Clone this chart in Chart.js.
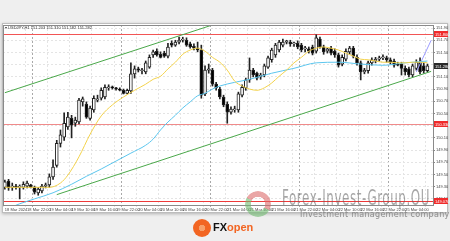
<!DOCTYPE html>
<html>
<head>
<meta charset="utf-8">
<script src="https://cdn.jsdelivr.net/npm/chart.js@4.4.1/dist/chart.umd.min.js"></script>
<style>
    html, body { margin:0; padding:0; width:450px; height:241px; overflow:hidden; background:#efefef; font-family:"Liberation Sans", Arial, sans-serif; }
    #panel { position:absolute; left:2px; top:23px; width:444px; height:188px; background:#fff; border:1px solid #bdbdbd; box-shadow:0 1px 3px rgba(0,0,0,0.25); }
    #chart { position:absolute; left:0; top:0; z-index:1; }
    #title { position:absolute; left:5px; top:25px; z-index:2; font-size:4px; color:#333; white-space:nowrap; }
    #ring { position:absolute; left:245px; top:191px; width:26px; height:26px; border-radius:50%; z-index:3; opacity:0.6;
            background:conic-gradient(from 300deg, #dd6c6c 0 50%, #72bb72 50% 100%);
            -webkit-mask:radial-gradient(circle, transparent 7px, #000 7.5px); mask:radial-gradient(circle, transparent 7px, #000 7.5px); }
    #wm { position:absolute; left:282px; top:185px; z-index:3; font:22px "DejaVu Sans Condensed", sans-serif; color:rgba(95,95,95,0.55);
          white-space:nowrap; transform:scaleX(0.6); transform-origin:left top; letter-spacing:1px; }
    #wm2 { position:absolute; left:300px; top:210px; z-index:3; font:8px "DejaVu Sans", sans-serif; color:#8c8c8c; white-space:nowrap; letter-spacing:0.3px; }
    #fxo { position:absolute; left:193px; top:219px; z-index:3; height:18px; white-space:nowrap; }
    #fxo .icon { position:absolute; left:0; top:0; width:18px; height:18px; border-radius:50%; background:radial-gradient(circle, #f7a06a 0 3px, #f26522 3.5px); }
    #fxo .txt { position:absolute; left:20px; top:2px; font:bold 11px "Liberation Sans", Arial, sans-serif; color:#111; }
    #fxo .txt span { color:#f26522; }
</style>
</head>
<body>
<div id="panel"></div>
<canvas id="chart" width="450" height="241"></canvas>
<div id="title">&#9662; USDJPY,H1 151.203 151.310 151.182 151.282</div>
<div id="ring"></div>
<div id="wm">Forex-Invest-Group.OU</div>
<div id="wm2">Investment management company</div>
<div id="fxo"><div class="icon"></div><div class="txt">FX<span>open</span></div></div>
<script>
'use strict';

// ── axis labels ──
const timeLabels = ['18 Mar 2024', '18 Mar 22:00', '19 Mar 04:00', '19 Mar 10:00', '19 Mar 16:00',
    '19 Mar 22:00', '20 Mar 04:00', '20 Mar 10:00', '20 Mar 16:00', '20 Mar 22:00', '21 Mar 04:00',
    '21 Mar 10:00', '21 Mar 16:00', '21 Mar 22:00', '22 Mar 04:00', '22 Mar 10:00', '22 Mar 16:00',
    '22 Mar 22:00', '25 Mar 04:00'];
const priceTicks = [149.1, 149.3, 149.5, 149.7, 149.9, 150.1, 150.3, 150.5, 150.7, 150.9,
    151.1, 151.3, 151.5, 151.7, 151.9];
const daySeparators = [8, 32, 56, 80, 104];
const SLOTS = 116;   // 115 candles + one empty slot of chart shift

// ── USDJPY H1 candles ──
const opens = [149.29,149.39,149.29,149.31,149.29,149.29,149.31,149.33,149.29,149.20,
    149.23,149.31,149.33,149.46,149.65,150.01,150.11,150.28,150.42,150.34,
    150.36,150.69,150.65,150.42,150.56,150.72,150.75,150.77,150.92,150.93,
    150.92,150.90,150.88,150.83,150.87,151.15,151.23,151.20,151.18,151.26,
    151.46,151.52,151.47,151.49,151.44,151.65,151.62,151.67,151.70,151.70,
    151.64,151.60,151.57,151.54,150.82,151.21,151.21,150.98,150.90,150.77,
    150.65,150.52,150.56,150.56,150.80,150.92,151.05,151.21,151.16,151.10,
    151.13,151.26,151.38,151.46,151.54,151.62,151.67,151.67,151.64,151.65,
    151.62,151.56,151.56,151.59,151.52,151.72,151.59,151.52,151.57,151.52,
    151.46,151.31,151.39,151.51,151.57,151.42,151.33,151.18,151.20,151.33,
    151.36,151.39,151.41,151.41,151.38,151.36,151.31,151.31,151.24,151.23,
    151.13,151.24,151.34,151.28,151.20];
const highs = [149.41,149.42,149.36,149.34,149.33,149.38,149.39,149.34,149.31,149.29,
    149.34,149.36,149.51,149.74,150.06,150.23,150.51,150.52,150.47,150.44,
    150.75,150.77,150.69,150.62,150.79,150.80,150.92,150.97,150.97,150.95,
    150.93,150.92,150.90,150.90,151.33,151.28,151.26,151.24,151.36,151.46,
    151.54,151.56,151.51,151.52,151.65,151.69,151.70,151.75,151.75,151.74,
    151.67,151.64,151.67,151.62,151.28,151.31,151.24,151.01,150.93,150.80,
    150.69,150.61,150.62,150.85,150.97,151.08,151.41,151.24,151.18,151.16,
    151.31,151.44,151.57,151.65,151.70,151.72,151.70,151.70,151.67,151.69,
    151.65,151.60,151.59,151.62,151.79,151.75,151.62,151.57,151.60,151.56,
    151.49,151.46,151.56,151.60,151.60,151.46,151.36,151.24,151.36,151.41,
    151.42,151.44,151.46,151.44,151.41,151.39,151.34,151.34,151.28,151.26,
    151.31,151.38,151.41,151.33,151.31];
const lows = [149.26,149.24,149.24,149.26,149.10,149.26,149.28,149.28,149.18,149.16,
    149.20,149.28,149.29,149.42,149.62,149.95,150.06,150.24,150.10,150.29,
    150.33,150.62,150.42,150.39,150.52,150.69,150.72,150.74,150.88,150.90,
    150.88,150.87,150.82,150.82,150.83,151.08,151.18,151.15,151.15,151.24,
    151.42,151.44,151.41,151.42,151.41,151.59,151.60,151.64,151.67,151.60,
    151.57,151.54,151.51,150.75,150.79,151.16,150.95,150.88,150.74,150.61,
    150.34,150.49,150.52,150.52,150.77,150.88,151.01,151.10,151.05,151.06,
    151.10,151.24,151.34,151.42,151.51,151.59,151.64,151.60,151.60,151.56,
    151.51,151.51,151.49,151.46,151.49,151.57,151.47,151.49,151.46,151.42,
    151.26,151.28,151.36,151.47,151.41,151.29,151.05,151.15,151.16,151.29,
    151.33,151.36,151.38,151.34,151.31,151.26,151.28,151.13,151.13,151.10,
    151.10,151.21,151.15,151.16,151.18];
const closes = [149.38,149.28,149.31,149.29,149.31,149.34,149.36,149.29,149.21,149.26,
    149.31,149.33,149.46,149.62,150.01,150.15,150.34,150.44,150.31,150.39,
    150.72,150.74,150.44,150.59,150.75,150.74,150.88,150.93,150.93,150.92,
    150.90,150.88,150.83,150.88,151.15,151.23,151.21,151.21,151.33,151.42,
    151.51,151.46,151.42,151.44,151.59,151.62,151.67,151.70,151.72,151.62,
    151.59,151.57,151.54,150.80,151.21,151.23,150.98,150.92,150.77,150.64,
    150.52,150.57,150.57,150.82,150.93,151.05,151.21,151.13,151.08,151.13,
    151.28,151.41,151.54,151.62,151.67,151.67,151.69,151.64,151.65,151.59,
    151.54,151.57,151.52,151.49,151.74,151.59,151.51,151.56,151.49,151.46,
    151.29,151.42,151.52,151.57,151.44,151.33,151.18,151.21,151.33,151.38,
    151.39,151.41,151.42,151.38,151.34,151.29,151.29,151.24,151.18,151.13,
    151.28,151.34,151.18,151.20,151.28];

// ── indicators at (candle index, price) ──
const fastMaIdx = [0,6,12,15,17,20,23,26,29,32,35,38,40,42,44,46,48,50,52,54,
    56,58,60,62,64,66,68,70,72,74,76,78,80,82,84,86,88,90,92,94,
    96,98,100,102,104,106,108,110,112,114];
const fastMaVal = [149.29,149.29,149.29,149.36,149.49,149.79,150.16,150.46,150.64,150.77,
    150.88,150.98,151.06,151.11,151.23,151.34,151.47,151.54,151.57,151.52,
    151.42,151.34,151.21,151.03,150.95,150.90,150.88,150.92,151.00,151.11,
    151.21,151.33,151.42,151.52,151.57,151.59,151.57,151.54,151.49,151.44,
    151.39,151.38,151.36,151.34,151.34,151.33,151.33,151.34,151.34,151.33];
const slowMaIdx = [0,4,8,13,18,22,26,30,34,38,40,42,44,46,48,50,52,54,56,58,
    62,66,72,78,84,90,96,102,108,114];
const slowMaVal = [148.92,149.02,149.10,149.20,149.34,149.47,149.59,149.72,149.85,149.98,
    150.08,150.23,150.36,150.47,150.59,150.69,150.79,150.83,150.90,150.95,
    151.01,151.06,151.16,151.24,151.33,151.34,151.31,151.29,151.33,151.36];
const upperChannelIdx = [0, 60];
const upperChannelVal = [150.84, 152.03];
const lowerChannelIdx = [14, 115];
const lowerChannelVal = [149.17, 151.19];
const projectionIdx = [111, 115];
const projectionVal = [151.18, 151.70];
const levels = [151.80, 150.33, 149.07];

function sparse(idx, val) {
    const a = new Array(SLOTS).fill(null);
    idx.forEach((k, j) => { a[k] = val[j]; });
    return a;
}

const labels = Array.from({ length: SLOTS }, (_, i) =>
    (i % 6 === 0 && timeLabels[i / 6]) ? timeLabels[i / 6] : '');
const bodyColors = opens.map((o, i) => closes[i] >= o ? '#ffffff' : '#000000');
const levelColors = ['#f25555', '#f08a8a', '#ee3a3a'];

// horizontal levels, chart frame and the price boxes on the axis
const mt4Overlay = {
    id: 'mt4Overlay',
    beforeDatasetsDraw(chart) {
        const { ctx, chartArea: a, scales: { y } } = chart;
        ctx.save();
        levels.forEach((v, i) => {
            const py = Math.round(y.getPixelForValue(v)) + 0.5;
            ctx.strokeStyle = levelColors[i];
            ctx.lineWidth = 1;
            ctx.beginPath(); ctx.moveTo(a.left, py); ctx.lineTo(a.right, py); ctx.stroke();
        });
        ctx.restore();
    },
    afterDraw(chart) {
        const { ctx, chartArea: a, scales: { y } } = chart;
        ctx.save();
        ctx.strokeStyle = '#8a8a8a';
        ctx.lineWidth = 1;
        ctx.strokeRect(Math.round(a.left) + 0.5, Math.round(a.top) + 0.5,
            Math.round(a.right - a.left), Math.round(a.bottom - a.top));
        const boxes = levels.map((v, i) => ({ v, bg: levelColors[i] === '#f08a8a' ? '#ef2b2b' : '#ef2b2b' }));
        boxes.push({ v: closes[closes.length - 1], bg: '#2a2a2a' });
        ctx.font = '4px "Liberation Sans", Arial, sans-serif';
        ctx.textBaseline = 'middle';
        boxes.forEach(b => {
            const py = Math.round(y.getPixelForValue(b.v));
            ctx.fillStyle = b.bg;
            ctx.fillRect(Math.round(a.right) + 1, py - 3, 14, 6);
            ctx.fillStyle = '#fff';
            ctx.fillText(b.v.toFixed(3), Math.round(a.right) + 2, py + 0.5);
        });
        ctx.restore();
    }
};

const lineBase = { type: 'line', borderWidth: 1, pointRadius: 0, spanGaps: true, order: 1 };

new Chart(document.getElementById('chart'), {
    type: 'bar',
    data: {
        labels,
        datasets: [
            { ...lineBase, data: sparse(fastMaIdx, fastMaVal), borderColor: '#f3d24b', cubicInterpolationMode: 'monotone' },
            { ...lineBase, data: sparse(slowMaIdx, slowMaVal), borderColor: '#5cc6ee', cubicInterpolationMode: 'monotone' },
            { ...lineBase, data: sparse(upperChannelIdx, upperChannelVal), borderColor: '#4aa84a' },
            { ...lineBase, data: sparse(lowerChannelIdx, lowerChannelVal), borderColor: '#4aa84a' },
            { ...lineBase, data: sparse(projectionIdx, projectionVal), borderColor: '#9b9bff' },
            { type: 'bar', data: opens.map((o, i) => [Math.min(o, closes[i]), Math.max(o, closes[i])]),
              backgroundColor: bodyColors, borderColor: '#222', borderWidth: 1, borderSkipped: false,
              barThickness: 3, minBarLength: 1, grouped: false, order: 2 },
            { type: 'bar', data: lows.map((l, i) => [l, highs[i]]),
              backgroundColor: '#222', barThickness: 1, grouped: false, order: 3 }
        ]
    },
    options: {
        responsive: false, animation: false, devicePixelRatio: 1,
        layout: { padding: { left: 3, top: 25, right: 2, bottom: 29 } },
        plugins: { legend: { display: false }, tooltip: { enabled: false } },
        scales: {
            x: {
                grid: {
                    offset: true, lineWidth: 1, tickLength: 2,
                    color: ctx => daySeparators.includes(ctx.index) ? '#a9a9a9'
                        : (ctx.index % 6 === 0 ? '#e4e4e4' : 'rgba(0,0,0,0)')
                },
                border: { color: '#8a8a8a', dash: [2, 2] },
                ticks: { autoSkip: false, maxRotation: 0, minRotation: 0, align: 'start', padding: 0,
                    font: { size: 4, family: 'Liberation Sans' }, color: '#444' },
                afterFit: s => { s.height = 7; }
            },
            y: {
                position: 'right', min: 149.0, max: 151.95,
                afterBuildTicks: s => { s.ticks = priceTicks.map(v => ({ value: v })); },
                grid: { color: '#e4e4e4', tickLength: 2, tickColor: '#888' },
                border: { color: '#8a8a8a', dash: [2, 2] },
                ticks: { padding: 1, font: { size: 4, family: 'Liberation Sans' }, color: '#444',
                    callback: v => v.toFixed(3) },
                afterFit: s => { s.width = 15; }
            }
        }
    },
    plugins: [mt4Overlay]
});
</script>
</body>
</html>
